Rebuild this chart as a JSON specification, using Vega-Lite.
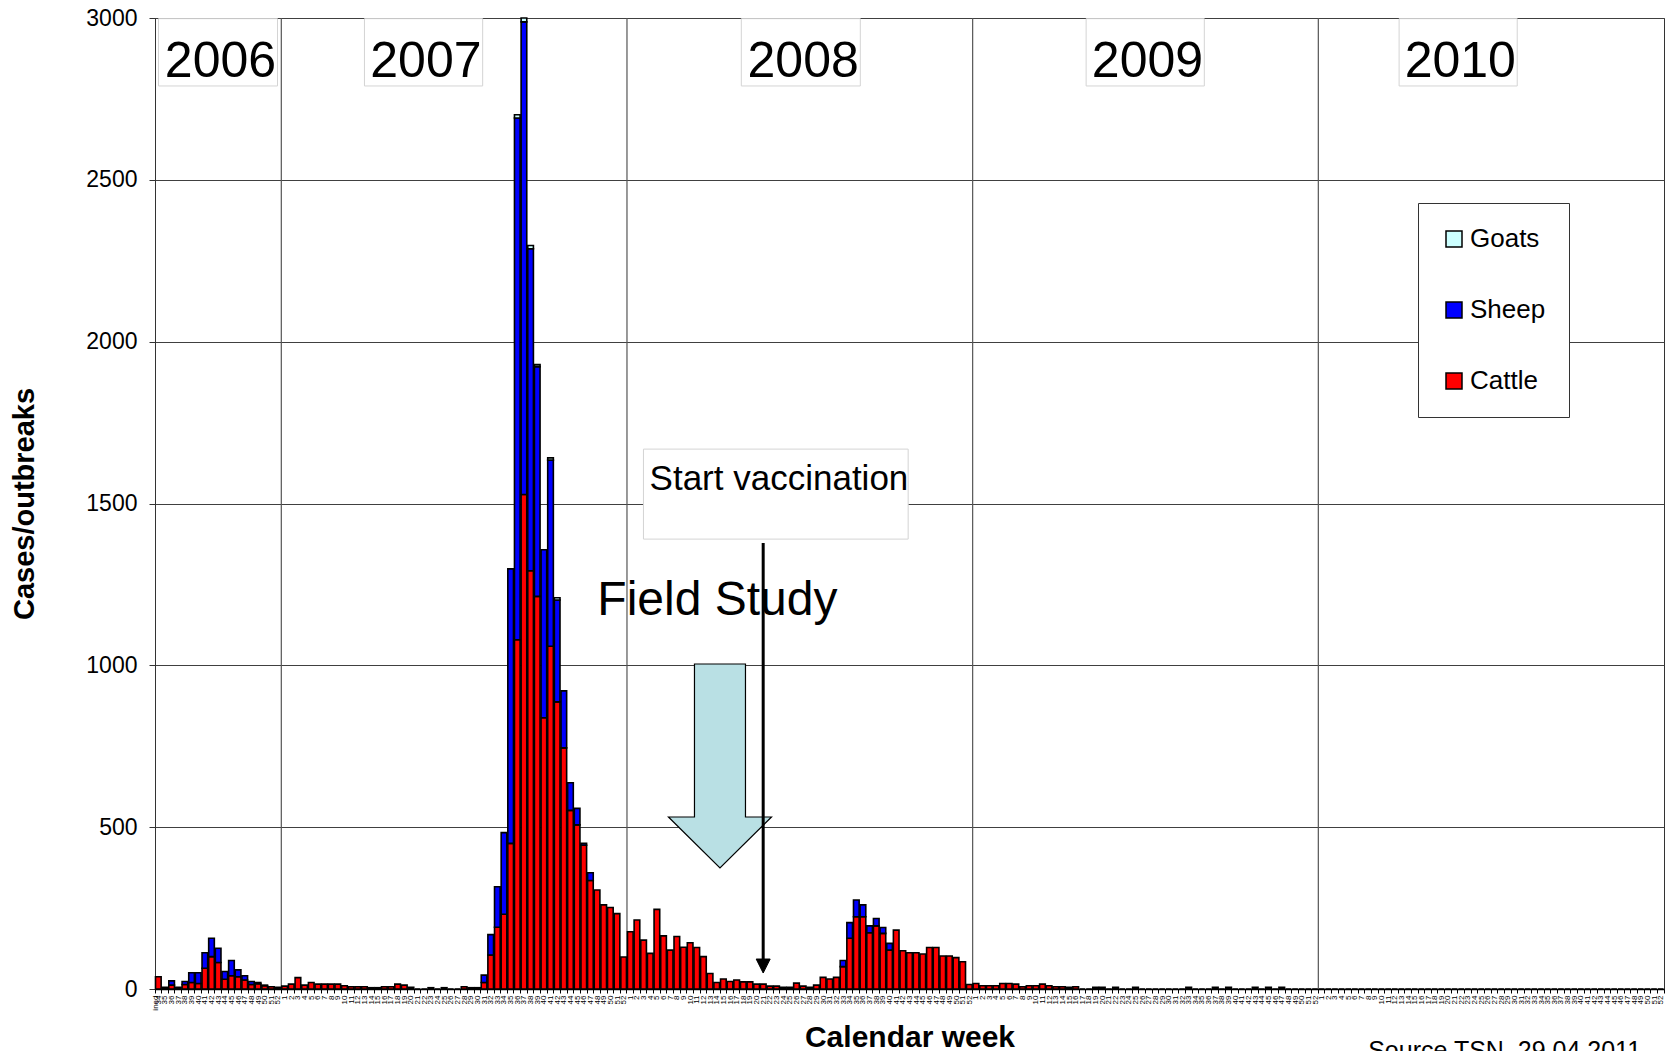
{
  "$schema": "https://vega.github.io/schema/vega-lite/v6.json",
  "width": 1509,
  "height": 971,
  "autosize": {"type": "none"},
  "padding": {"left": 155, "top": 18, "right": 5, "bottom": 62},
  "background": "white",
  "config": {
    "font": "Liberation Sans",
    "view": {"stroke": "#333", "strokeWidth": 1},
    "axisY": {
      "labelFontSize": 23, "labelColor": "#000", "labelPadding": 12,
      "tickSize": 6, "tickColor": "#333", "domainColor": "#333",
      "gridColor": "#404040", "gridWidth": 1,
      "titleFontSize": 29, "titleFontWeight": "bold", "titleColor": "#000",
      "titleX": -122, "titleBaseline": "alphabetic"
    },
    "axisX": {
      "grid": false, "labelFontSize": 8, "labelAngle": 270, "labelPadding": 2,
      "labelOverlap": false, "labelFlush": false, "labelColor": "#000",
      "tickSize": 4, "tickBand": "extent", "tickColor": "#000", "domainColor": "#000", "domainWidth": 1.5,
      "titleFontSize": 30, "titleFontWeight": "bold", "titleColor": "#000",
      "titleY": 57, "titleBaseline": "alphabetic"
    }
  },
  "resolve": {"scale": {"x": "independent"}},
  "layer": [
    {
      "data": {"values": [{"b": 19}, {"b": 71}, {"b": 123}, {"b": 175}]},
      "mark": {"type": "rule", "color": "#555", "strokeWidth": 1.2},
      "encoding": {
        "x": {"field": "b", "type": "quantitative", "scale": {"domain": [0, 227], "nice": false, "zero": false}, "axis": null}
      }
    },
    {
      "data": {"values": [
        {"wk":"2006-34","Cattle":38},{"wk":"2006-35","Cattle":5},{"wk":"2006-36","Cattle":12,"Sheep":13},{"wk":"2006-37","Cattle":5},
        {"wk":"2006-38","Cattle":14,"Sheep":9},{"wk":"2006-39","Cattle":20,"Sheep":30},{"wk":"2006-40","Cattle":17,"Sheep":33},
        {"wk":"2006-41","Cattle":64,"Sheep":48},{"wk":"2006-42","Cattle":100,"Sheep":57},{"wk":"2006-43","Cattle":82,"Sheep":44},
        {"wk":"2006-44","Cattle":30,"Sheep":24},{"wk":"2006-45","Cattle":41,"Sheep":47},{"wk":"2006-46","Cattle":38,"Sheep":21},
        {"wk":"2006-47","Cattle":28,"Sheep":13},{"wk":"2006-48","Cattle":14,"Sheep":9},{"wk":"2006-49","Cattle":16,"Sheep":4},
        {"wk":"2006-50","Cattle":10,"Sheep":2},{"wk":"2006-51","Cattle":7},{"wk":"2006-52","Cattle":5},
        {"wk":"2007-1","Cattle":9},{"wk":"2007-2","Cattle":15},{"wk":"2007-3","Cattle":35},{"wk":"2007-4","Cattle":12},
        {"wk":"2007-5","Cattle":20},{"wk":"2007-6","Cattle":15},{"wk":"2007-7","Cattle":15},{"wk":"2007-8","Cattle":15},
        {"wk":"2007-9","Cattle":15},{"wk":"2007-10","Cattle":10},{"wk":"2007-11","Cattle":7},{"wk":"2007-12","Cattle":7},
        {"wk":"2007-13","Cattle":7},{"wk":"2007-14","Cattle":4},{"wk":"2007-15","Cattle":4},{"wk":"2007-16","Cattle":7},
        {"wk":"2007-17","Cattle":7},{"wk":"2007-18","Cattle":15},{"wk":"2007-19","Cattle":12},{"wk":"2007-20","Cattle":5},
        {"wk":"2007-21","Cattle":0},{"wk":"2007-22","Cattle":0},{"wk":"2007-23","Cattle":4},{"wk":"2007-24","Cattle":0},
        {"wk":"2007-25","Cattle":4},{"wk":"2007-26","Cattle":0},{"wk":"2007-27","Cattle":0},{"wk":"2007-28","Cattle":7},
        {"wk":"2007-29","Cattle":4},{"wk":"2007-30","Cattle":4},{"wk":"2007-31","Cattle":20,"Sheep":23},
        {"wk":"2007-32","Cattle":105,"Sheep":63},{"wk":"2007-33","Cattle":191,"Sheep":125},{"wk":"2007-34","Cattle":231,"Sheep":252},
        {"wk":"2007-35","Cattle":450,"Sheep":848},{"wk":"2007-36","Cattle":1079,"Sheep":1612,"Goats":10},
        {"wk":"2007-37","Cattle":1528,"Sheep":1460,"Goats":12},{"wk":"2007-38","Cattle":1292,"Sheep":995,"Goats":10},
        {"wk":"2007-39","Cattle":1213,"Sheep":710,"Goats":6},{"wk":"2007-40","Cattle":838,"Sheep":519},
        {"wk":"2007-41","Cattle":1059,"Sheep":575,"Goats":7},{"wk":"2007-42","Cattle":887,"Sheep":315,"Goats":7},
        {"wk":"2007-43","Cattle":745,"Sheep":176},{"wk":"2007-44","Cattle":552,"Sheep":85},{"wk":"2007-45","Cattle":507,"Sheep":51},
        {"wk":"2007-46","Cattle":444,"Sheep":6},{"wk":"2007-47","Cattle":335,"Sheep":24},{"wk":"2007-48","Cattle":306},
        {"wk":"2007-49","Cattle":260},{"wk":"2007-50","Cattle":252},{"wk":"2007-51","Cattle":233},{"wk":"2007-52","Cattle":99},
        {"wk":"2008-1","Cattle":177},{"wk":"2008-2","Cattle":213},{"wk":"2008-3","Cattle":151},{"wk":"2008-4","Cattle":110},
        {"wk":"2008-5","Cattle":246},{"wk":"2008-6","Cattle":164},{"wk":"2008-7","Cattle":120},{"wk":"2008-8","Cattle":162},
        {"wk":"2008-9","Cattle":129},{"wk":"2008-10","Cattle":143},{"wk":"2008-11","Cattle":128},{"wk":"2008-12","Cattle":100},
        {"wk":"2008-13","Cattle":48},{"wk":"2008-14","Cattle":20},{"wk":"2008-15","Cattle":31},{"wk":"2008-16","Cattle":23},
        {"wk":"2008-17","Cattle":28},{"wk":"2008-18","Cattle":22},{"wk":"2008-19","Cattle":22},{"wk":"2008-20","Cattle":15},
        {"wk":"2008-21","Cattle":15},{"wk":"2008-22","Cattle":9},{"wk":"2008-23","Cattle":9},{"wk":"2008-24","Cattle":5},
        {"wk":"2008-25","Cattle":5},{"wk":"2008-26","Cattle":18},{"wk":"2008-27","Cattle":9},{"wk":"2008-28","Cattle":5},
        {"wk":"2008-29","Cattle":12},{"wk":"2008-30","Cattle":36},{"wk":"2008-31","Cattle":31},{"wk":"2008-32","Cattle":36},
        {"wk":"2008-33","Cattle":69,"Sheep":19},{"wk":"2008-34","Cattle":157,"Sheep":48},{"wk":"2008-35","Cattle":223,"Sheep":52},
        {"wk":"2008-36","Cattle":223,"Sheep":37},{"wk":"2008-37","Cattle":174,"Sheep":21},{"wk":"2008-38","Cattle":195,"Sheep":23},
        {"wk":"2008-39","Cattle":172,"Sheep":18},{"wk":"2008-40","Cattle":120,"Sheep":21},{"wk":"2008-41","Cattle":182},
        {"wk":"2008-42","Cattle":118},{"wk":"2008-43","Cattle":112},{"wk":"2008-44","Cattle":112},{"wk":"2008-45","Cattle":108},
        {"wk":"2008-46","Cattle":128},{"wk":"2008-47","Cattle":128},{"wk":"2008-48","Cattle":102},{"wk":"2008-49","Cattle":102},
        {"wk":"2008-50","Cattle":97},{"wk":"2008-51","Cattle":84},{"wk":"2008-52","Cattle":14},
        {"wk":"2009-1","Cattle":17},{"wk":"2009-2","Cattle":10},{"wk":"2009-3","Cattle":10},{"wk":"2009-4","Cattle":10},
        {"wk":"2009-5","Cattle":17},{"wk":"2009-6","Cattle":17},{"wk":"2009-7","Cattle":15},{"wk":"2009-8","Cattle":7},
        {"wk":"2009-9","Cattle":10},{"wk":"2009-10","Cattle":10},{"wk":"2009-11","Cattle":15},{"wk":"2009-12","Cattle":10},
        {"wk":"2009-13","Cattle":7},{"wk":"2009-14","Cattle":7},{"wk":"2009-15","Cattle":5},{"wk":"2009-16","Cattle":7},
        {"wk":"2009-17","Cattle":0},{"wk":"2009-18","Cattle":0},{"wk":"2009-19","Cattle":5},{"wk":"2009-20","Cattle":5},
        {"wk":"2009-21","Cattle":0},{"wk":"2009-22","Cattle":5},{"wk":"2009-23","Cattle":0},{"wk":"2009-24","Cattle":0},
        {"wk":"2009-25","Cattle":5},{"wk":"2009-26","Cattle":0},{"wk":"2009-27","Cattle":0},{"wk":"2009-28","Cattle":0},
        {"wk":"2009-29","Cattle":0},{"wk":"2009-30","Cattle":0},{"wk":"2009-31","Cattle":0},{"wk":"2009-32","Cattle":0},
        {"wk":"2009-33","Cattle":5},{"wk":"2009-34","Cattle":0},{"wk":"2009-35","Cattle":0},{"wk":"2009-36","Cattle":0},
        {"wk":"2009-37","Cattle":5},{"wk":"2009-38","Cattle":0},{"wk":"2009-39","Cattle":5},{"wk":"2009-40","Cattle":0},
        {"wk":"2009-41","Cattle":0},{"wk":"2009-42","Cattle":0},{"wk":"2009-43","Cattle":5},{"wk":"2009-44","Cattle":0},
        {"wk":"2009-45","Cattle":5},{"wk":"2009-46","Cattle":0},{"wk":"2009-47","Cattle":5},{"wk":"2009-48","Cattle":0},
        {"wk":"2009-49","Cattle":0},{"wk":"2009-50","Cattle":0},{"wk":"2009-51","Cattle":0},{"wk":"2009-52","Cattle":0},
        {"wk":"2010-1","Cattle":0},{"wk":"2010-2","Cattle":0},{"wk":"2010-3","Cattle":0},{"wk":"2010-4","Cattle":0},
        {"wk":"2010-5","Cattle":0},{"wk":"2010-6","Cattle":0},{"wk":"2010-7","Cattle":0},{"wk":"2010-8","Cattle":0},
        {"wk":"2010-9","Cattle":0},{"wk":"2010-10","Cattle":0},{"wk":"2010-11","Cattle":0},{"wk":"2010-12","Cattle":0},
        {"wk":"2010-13","Cattle":0},{"wk":"2010-14","Cattle":0},{"wk":"2010-15","Cattle":0},{"wk":"2010-16","Cattle":0},
        {"wk":"2010-17","Cattle":0},{"wk":"2010-18","Cattle":0},{"wk":"2010-19","Cattle":0},{"wk":"2010-20","Cattle":0},
        {"wk":"2010-21","Cattle":0},{"wk":"2010-22","Cattle":0},{"wk":"2010-23","Cattle":0},{"wk":"2010-24","Cattle":0},
        {"wk":"2010-25","Cattle":0},{"wk":"2010-26","Cattle":0},{"wk":"2010-27","Cattle":0},{"wk":"2010-28","Cattle":0},
        {"wk":"2010-29","Cattle":0},{"wk":"2010-30","Cattle":0},{"wk":"2010-31","Cattle":0},{"wk":"2010-32","Cattle":0},
        {"wk":"2010-33","Cattle":0},{"wk":"2010-34","Cattle":0},{"wk":"2010-35","Cattle":0},{"wk":"2010-36","Cattle":0},
        {"wk":"2010-37","Cattle":0},{"wk":"2010-38","Cattle":0},{"wk":"2010-39","Cattle":0},{"wk":"2010-40","Cattle":0},
        {"wk":"2010-41","Cattle":0},{"wk":"2010-42","Cattle":0},{"wk":"2010-43","Cattle":0},{"wk":"2010-44","Cattle":0},
        {"wk":"2010-45","Cattle":0},{"wk":"2010-46","Cattle":0},{"wk":"2010-47","Cattle":0},{"wk":"2010-48","Cattle":0},
        {"wk":"2010-49","Cattle":0},{"wk":"2010-50","Cattle":0},{"wk":"2010-51","Cattle":0},{"wk":"2010-52","Cattle":0}
      ]},
      "transform": [
        {"fold": ["Cattle", "Sheep", "Goats"], "as": ["animal", "n"]},
        {"filter": "isValid(datum.n)"},
        {"calculate": "indexof(['Cattle','Sheep','Goats'], datum.animal)", "as": "ord"}
      ],
      "mark": {"type": "bar", "stroke": "#000", "strokeWidth": 1.6},
      "encoding": {
        "x": {"field": "wk", "type": "ordinal", "sort": null, "title": "Calendar week",
              "scale": {"paddingInner": 0.15, "paddingOuter": 0.075},
              "axis": {"labelExpr": "substring(datum.value, 5)"}},
        "y": {"field": "n", "type": "quantitative", "stack": "zero", "title": "Cases/outbreaks",
              "scale": {"domain": [0, 3000], "nice": false},
              "axis": {"values": [0, 500, 1000, 1500, 2000, 2500, 3000], "format": "d"}},
        "color": {"field": "animal", "type": "nominal",
                  "scale": {"domain": ["Goats", "Sheep", "Cattle"], "range": ["#ccffff", "#0000ff", "#ff0000"]},
                  "legend": {"orient": "none", "legendX": 1263, "legendY": 185, "title": null,
                             "fillColor": "#fff", "strokeColor": "#333", "padding": 23,
                             "symbolType": "square", "symbolSize": 256, "symbolStrokeColor": "#000", "symbolStrokeWidth": 1.5,
                             "labelFontSize": 26, "labelColor": "#000", "labelOffset": 3, "rowPadding": 45}},
        "order": {"field": "ord", "type": "quantitative"}
      }
    },
    {
      "data": {"values": [
        {"x1": 0.53, "x2": 18.43, "y1": 2998, "y2": 2790},
        {"x1": 31.51, "x2": 49.29, "y1": 2998, "y2": 2790},
        {"x1": 88.2, "x2": 106.1, "y1": 2998, "y2": 2790},
        {"x1": 140.07, "x2": 157.85, "y1": 2998, "y2": 2790},
        {"x1": 187.15, "x2": 204.92, "y1": 2998, "y2": 2790},
        {"x1": 73.48, "x2": 113.3, "y1": 1668, "y2": 1390}
      ]},
      "mark": {"type": "rect", "fill": "#fff", "stroke": "#d4d4d4", "strokeWidth": 1},
      "encoding": {
        "x": {"field": "x1", "type": "quantitative", "scale": {"domain": [0, 227], "nice": false, "zero": false}, "axis": null},
        "x2": {"field": "x2"},
        "y": {"field": "y1", "type": "quantitative", "title": "Cases/outbreaks", "scale": {"domain": [0, 3000], "nice": false}},
        "y2": {"field": "y2"}
      }
    },
    {
      "data": {"values": [
        {"x": 9.85, "y": 2818, "t": "2006"},
        {"x": 40.75, "y": 2818, "t": "2007"},
        {"x": 97.5, "y": 2818, "t": "2008"},
        {"x": 149.3, "y": 2818, "t": "2009"},
        {"x": 196.35, "y": 2818, "t": "2010"}
      ]},
      "mark": {"type": "text", "fontSize": 50, "align": "center", "baseline": "alphabetic", "color": "#000"},
      "encoding": {
        "x": {"field": "x", "type": "quantitative", "scale": {"domain": [0, 227], "nice": false, "zero": false}, "axis": null},
        "y": {"field": "y", "type": "quantitative", "title": "Cases/outbreaks", "scale": {"domain": [0, 3000], "nice": false}},
        "text": {"field": "t"}
      }
    },
    {
      "data": {"values": [{"x": 93.86, "y": 1543, "t": "Start vaccination"}]},
      "mark": {"type": "text", "fontSize": 35, "align": "center", "baseline": "alphabetic", "color": "#000"},
      "encoding": {
        "x": {"field": "x", "type": "quantitative", "scale": {"domain": [0, 227], "nice": false, "zero": false}, "axis": null},
        "y": {"field": "y", "type": "quantitative", "title": "Cases/outbreaks", "scale": {"domain": [0, 3000], "nice": false}},
        "text": {"field": "t"}
      }
    },
    {
      "data": {"values": [{"x": 84.6, "y": 1155, "t": "Field Study"}]},
      "mark": {"type": "text", "fontSize": 48, "align": "center", "baseline": "alphabetic", "color": "#000"},
      "encoding": {
        "x": {"field": "x", "type": "quantitative", "scale": {"domain": [0, 227], "nice": false, "zero": false}, "axis": null},
        "y": {"field": "y", "type": "quantitative", "title": "Cases/outbreaks", "scale": {"domain": [0, 3000], "nice": false}},
        "text": {"field": "t"}
      }
    },
    {
      "data": {"values": [{"x": 84.99, "y": 689}]},
      "mark": {"type": "point", "filled": true, "fill": "#b9e0e4", "stroke": "#000", "strokeWidth": 1.2, "opacity": 1,
               "size": 41616, "shape": "M-0.25,-1L0.25,-1L0.25,0.5L0.505,0.5L0,1L-0.505,0.5L-0.25,0.5Z"},
      "encoding": {
        "x": {"field": "x", "type": "quantitative", "scale": {"domain": [0, 227], "nice": false, "zero": false}, "axis": null},
        "y": {"field": "y", "type": "quantitative", "title": "Cases/outbreaks", "scale": {"domain": [0, 3000], "nice": false}}
      }
    },
    {
      "data": {"values": [{"x": 91.49, "y": 1378, "y2": 80}]},
      "mark": {"type": "rule", "color": "#000", "strokeWidth": 3},
      "encoding": {
        "x": {"field": "x", "type": "quantitative", "scale": {"domain": [0, 227], "nice": false, "zero": false}, "axis": null},
        "y": {"field": "y", "type": "quantitative", "title": "Cases/outbreaks", "scale": {"domain": [0, 3000], "nice": false}},
        "y2": {"field": "y2"}
      }
    },
    {
      "data": {"values": [{"x": 91.49, "y": 71}]},
      "mark": {"type": "point", "filled": true, "fill": "#000", "stroke": "#000", "strokeWidth": 1, "opacity": 1,
               "size": 196, "shape": "M-1,-1L1,-1L0,1Z"},
      "encoding": {
        "x": {"field": "x", "type": "quantitative", "scale": {"domain": [0, 227], "nice": false, "zero": false}, "axis": null},
        "y": {"field": "y", "type": "quantitative", "title": "Cases/outbreaks", "scale": {"domain": [0, 3000], "nice": false}}
      }
    },
    {
      "data": {"values": [{"x": 182.5, "y": -216, "t": "Source TSN, 29.04.2011"}]},
      "mark": {"type": "text", "fontSize": 25, "align": "left", "baseline": "alphabetic", "color": "#000"},
      "encoding": {
        "x": {"field": "x", "type": "quantitative", "scale": {"domain": [0, 227], "nice": false, "zero": false}, "axis": null},
        "y": {"field": "y", "type": "quantitative", "title": "Cases/outbreaks", "scale": {"domain": [0, 3000], "nice": false}},
        "text": {"field": "t"}
      }
    }
  ]
}
